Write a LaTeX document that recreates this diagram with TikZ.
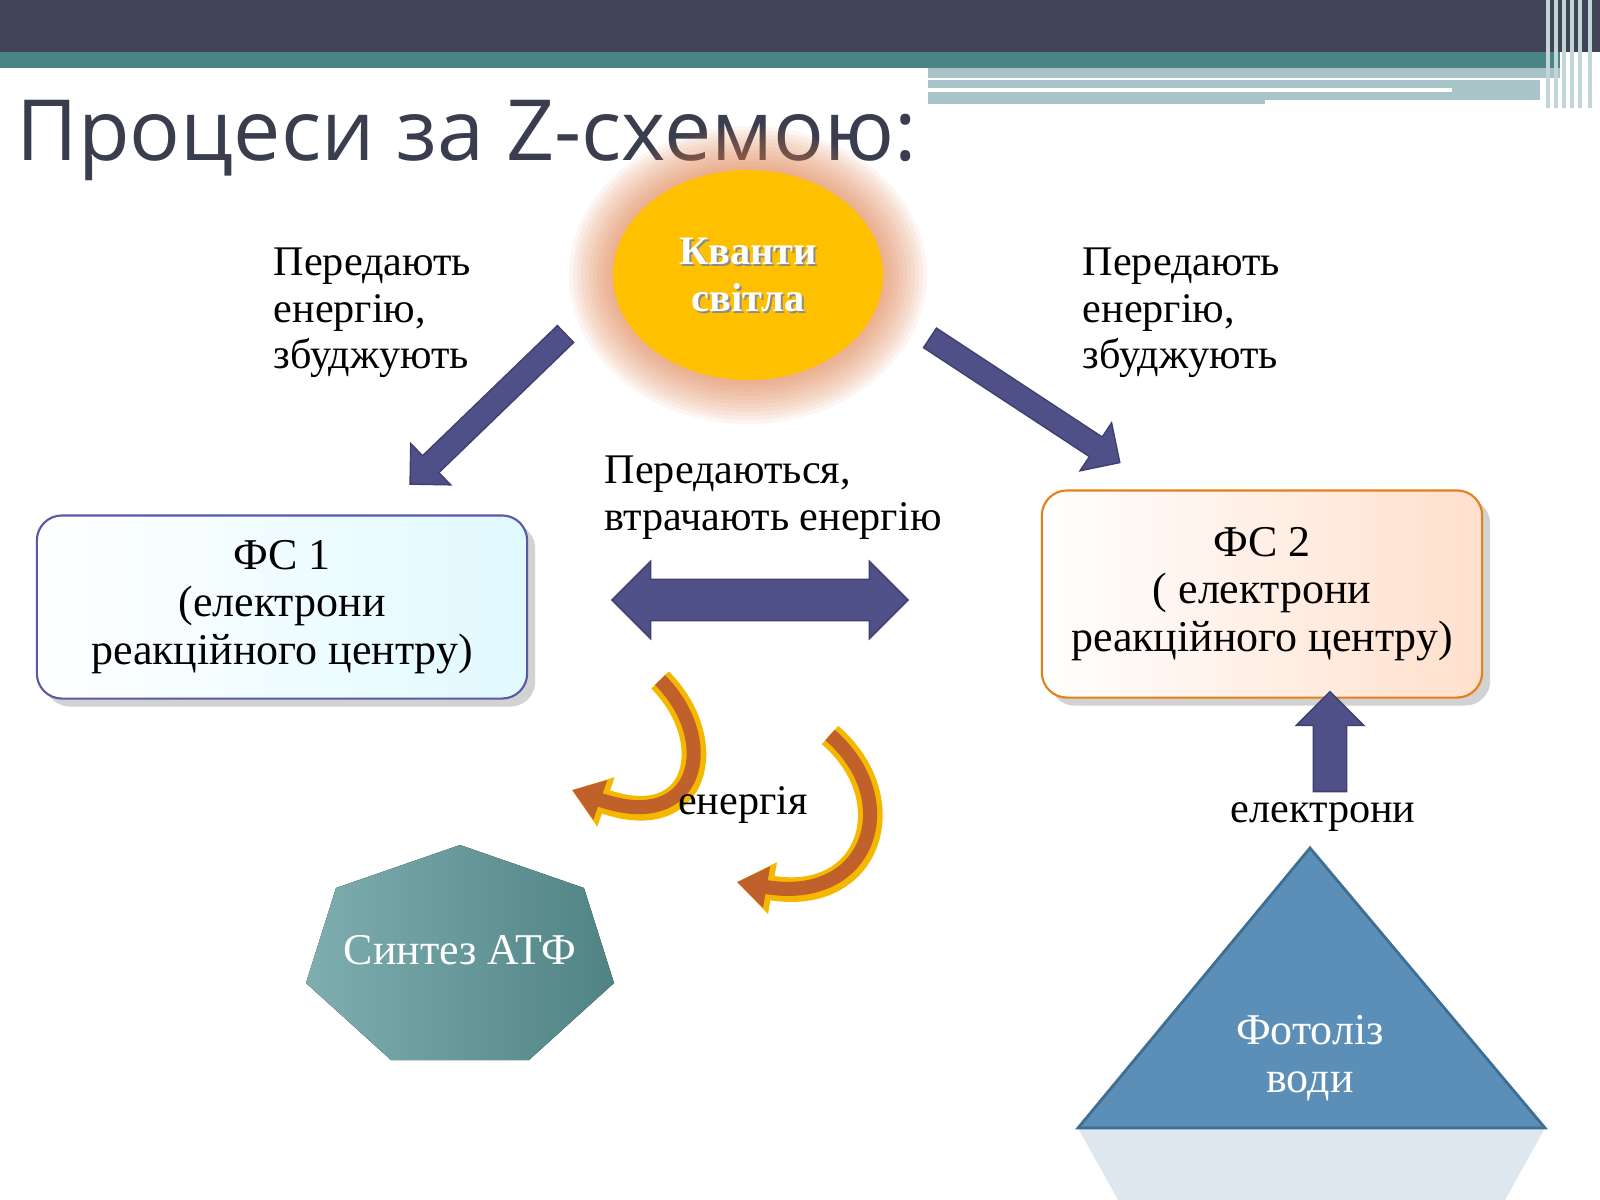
\documentclass[tikz,border=0pt]{standalone}
\usepackage{fontspec}
\setmainfont{Liberation Serif}
\newfontfamily\titlefont{Open Sans}
\usetikzlibrary{shapes.geometric,shapes.arrows,shadows,arrows.meta}
\definecolor{barDark}{HTML}{404456}
\definecolor{barTeal}{HTML}{4A8585}
\definecolor{barLight}{HTML}{A8C4C8}
\definecolor{navyArrow}{HTML}{4F5088}
\definecolor{quantYellow}{HTML}{FFC000}
\definecolor{glowOrange}{HTML}{E07A40}
\definecolor{tealHept}{HTML}{5E9A9C}
\definecolor{blueTri}{HTML}{5B8FB8}
\definecolor{edgeTri}{HTML}{3E6E92}
\definecolor{curveEdge}{HTML}{F5B800}
\definecolor{curveFill}{HTML}{C0602A}
\begin{document}
\begin{tikzpicture}[x=0.01cm,y=-0.01cm,
txt/.style={font=\fontsize{12}{13.3}\selectfont, align=left, inner sep=0pt},
fsbox/.style={draw, rounded corners=0.25cm, line width=0.6pt, minimum width=4.9cm, align=center,
  font=\fontsize{12.5}{13.5}\selectfont, drop shadow={opacity=0.35}},
blockarrow/.style={single arrow, fill=navyArrow, draw=navyArrow!80!black, inner sep=0pt,
  inner ysep=0.11cm, single arrow head extend=0.17cm, single arrow head indent=0cm},
curvarrow/.style={line width=4pt, draw=curveFill, -{Triangle[length=0.3cm,width=0.4cm]},
  preaction={draw=curveEdge, line width=7pt, -{Triangle[length=0.36cm,width=0.5cm]}}},
]
\useasboundingbox (0,0) rectangle (1600,1200);
\fill[white] (0,0) rectangle (1600,1200);
% top bars
\fill[barDark] (0,0) rectangle (1600,52);
\fill[barTeal] (0,52) rectangle (1560,68);
\fill[barLight] (0,68) rectangle (1560,78);
\fill[white] (0,68) rectangle (928,200);
\fill[barLight] (928,80) rectangle (1540,104);
\fill[white] (928,88) rectangle (1452,92);
\fill[white] (1265,100) rectangle (1540,104);
\foreach \xx in {1548,1556,1564,1572,1580,1590}
  \draw[barLight!70!white, line width=1pt] (\xx,0) -- (\xx,108);
\node[anchor=base west, inner sep=0pt, text=barDark!90!black, font=\titlefont\fontsize{24}{30}\selectfont]
  (title) at (16,160) {Процеси за Z-схемою:};
% light quanta
\foreach \r in {44,40,...,4}
  \fill[glowOrange, opacity=0.07] (748,275) ellipse ({135+\r} and {105+\r});
\node[ellipse, fill=quantYellow, minimum width=2.7cm, minimum height=2.1cm, text=white,
  font=\bfseries\fontsize{11.5}{13.5}\selectfont, align=center] (quanta) at (748,275) {};
\node[text=black!45, font=\bfseries\fontsize{11.5}{13.5}\selectfont, align=center] at (750,277) {Кванти\\світла};
\node[text=white, font=\bfseries\fontsize{11.5}{13.5}\selectfont, align=center] (quantaText) at (748,275) {Кванти\\світла};
% labels
\node[txt, anchor=north west] (lblLeft) at (273,247) {Передають\\енергію,\\збуджують};
\node[txt, anchor=north west] (lblRight) at (1082,247) {Передають\\енергію,\\збуджують};
\node[txt, anchor=north west] (lblMid) at (604,455) {Передаються,\\втрачають енергію};
% boxes
\node[fsbox, draw=blue!30!gray, left color=white, right color=blue!18!cyan!12!white,
  minimum height=1.83cm] (fs1) at (282,607) {ФС 1\\(електрони\\реакційного центру)};
\node[fsbox, draw=orange!60!brown, left color=white, right color=red!22!orange!20!white,
  minimum width=4.4cm, minimum height=2.07cm] (fs2) at (1262,594) {ФС 2\\( електрони\\реакційного центру)};
% navy arrows
\node[blockarrow, minimum height=2.16cm, rotate=224] (arrLeft) at (492,405) {};
\node[blockarrow, minimum height=2.27cm, rotate=-33.3] (arrRight) at (1020,397) {};
\node[double arrow, fill=navyArrow, draw=navyArrow!80!black, inner sep=0pt, inner ysep=0.2cm,
  double arrow head extend=0.18cm, double arrow head indent=0cm, minimum height=2.96cm] (arrBoth) at (760,600) {};
\node[blockarrow, inner ysep=0.16cm, single arrow head extend=0.17cm, minimum height=1cm, rotate=90] (arrUp) at (1330,750) {};
% energy curves
\coordinate (c1a) at (660,680); \coordinate (c1b) at (572,790);
\coordinate (c2a) at (830,735); \coordinate (c2b) at (737,882);
\draw[curvarrow] (c1a) .. controls (720,740) and (700,835) .. (c1b);
\draw[curvarrow] (c2a) .. controls (905,800) and (870,905) .. (c2b);
\node[txt] (energy) at (743,805) {енергія};
% ATP synthesis
\fill[left color=tealHept!80!white, right color=tealHept!85!black]
  (460,845) -- (584,888) -- (614,983) -- (529,1060) -- (391,1060) -- (306,983) -- (336,888) -- cycle;
\node[text=white, font=\fontsize{12.5}{13.5}\selectfont] (atp) at (460,950) {Синтез АТФ};
% photolysis
\node[txt] (electrons) at (1323,817) {електрони};
\fill[blueTri!35!white, opacity=0.6] (1078,1128) -- (1545,1128) -- (1505,1200) -- (1118,1200) -- cycle;
\filldraw[fill=blueTri, draw=edgeTri, line width=0.8pt] (1310,848) -- (1545,1128) -- (1078,1128) -- cycle;
\node[text=white, align=center, font=\fontsize{12.5}{13.5}\selectfont] (photo) at (1310,1058) {Фотоліз\\води};
\end{tikzpicture}
\end{document}
